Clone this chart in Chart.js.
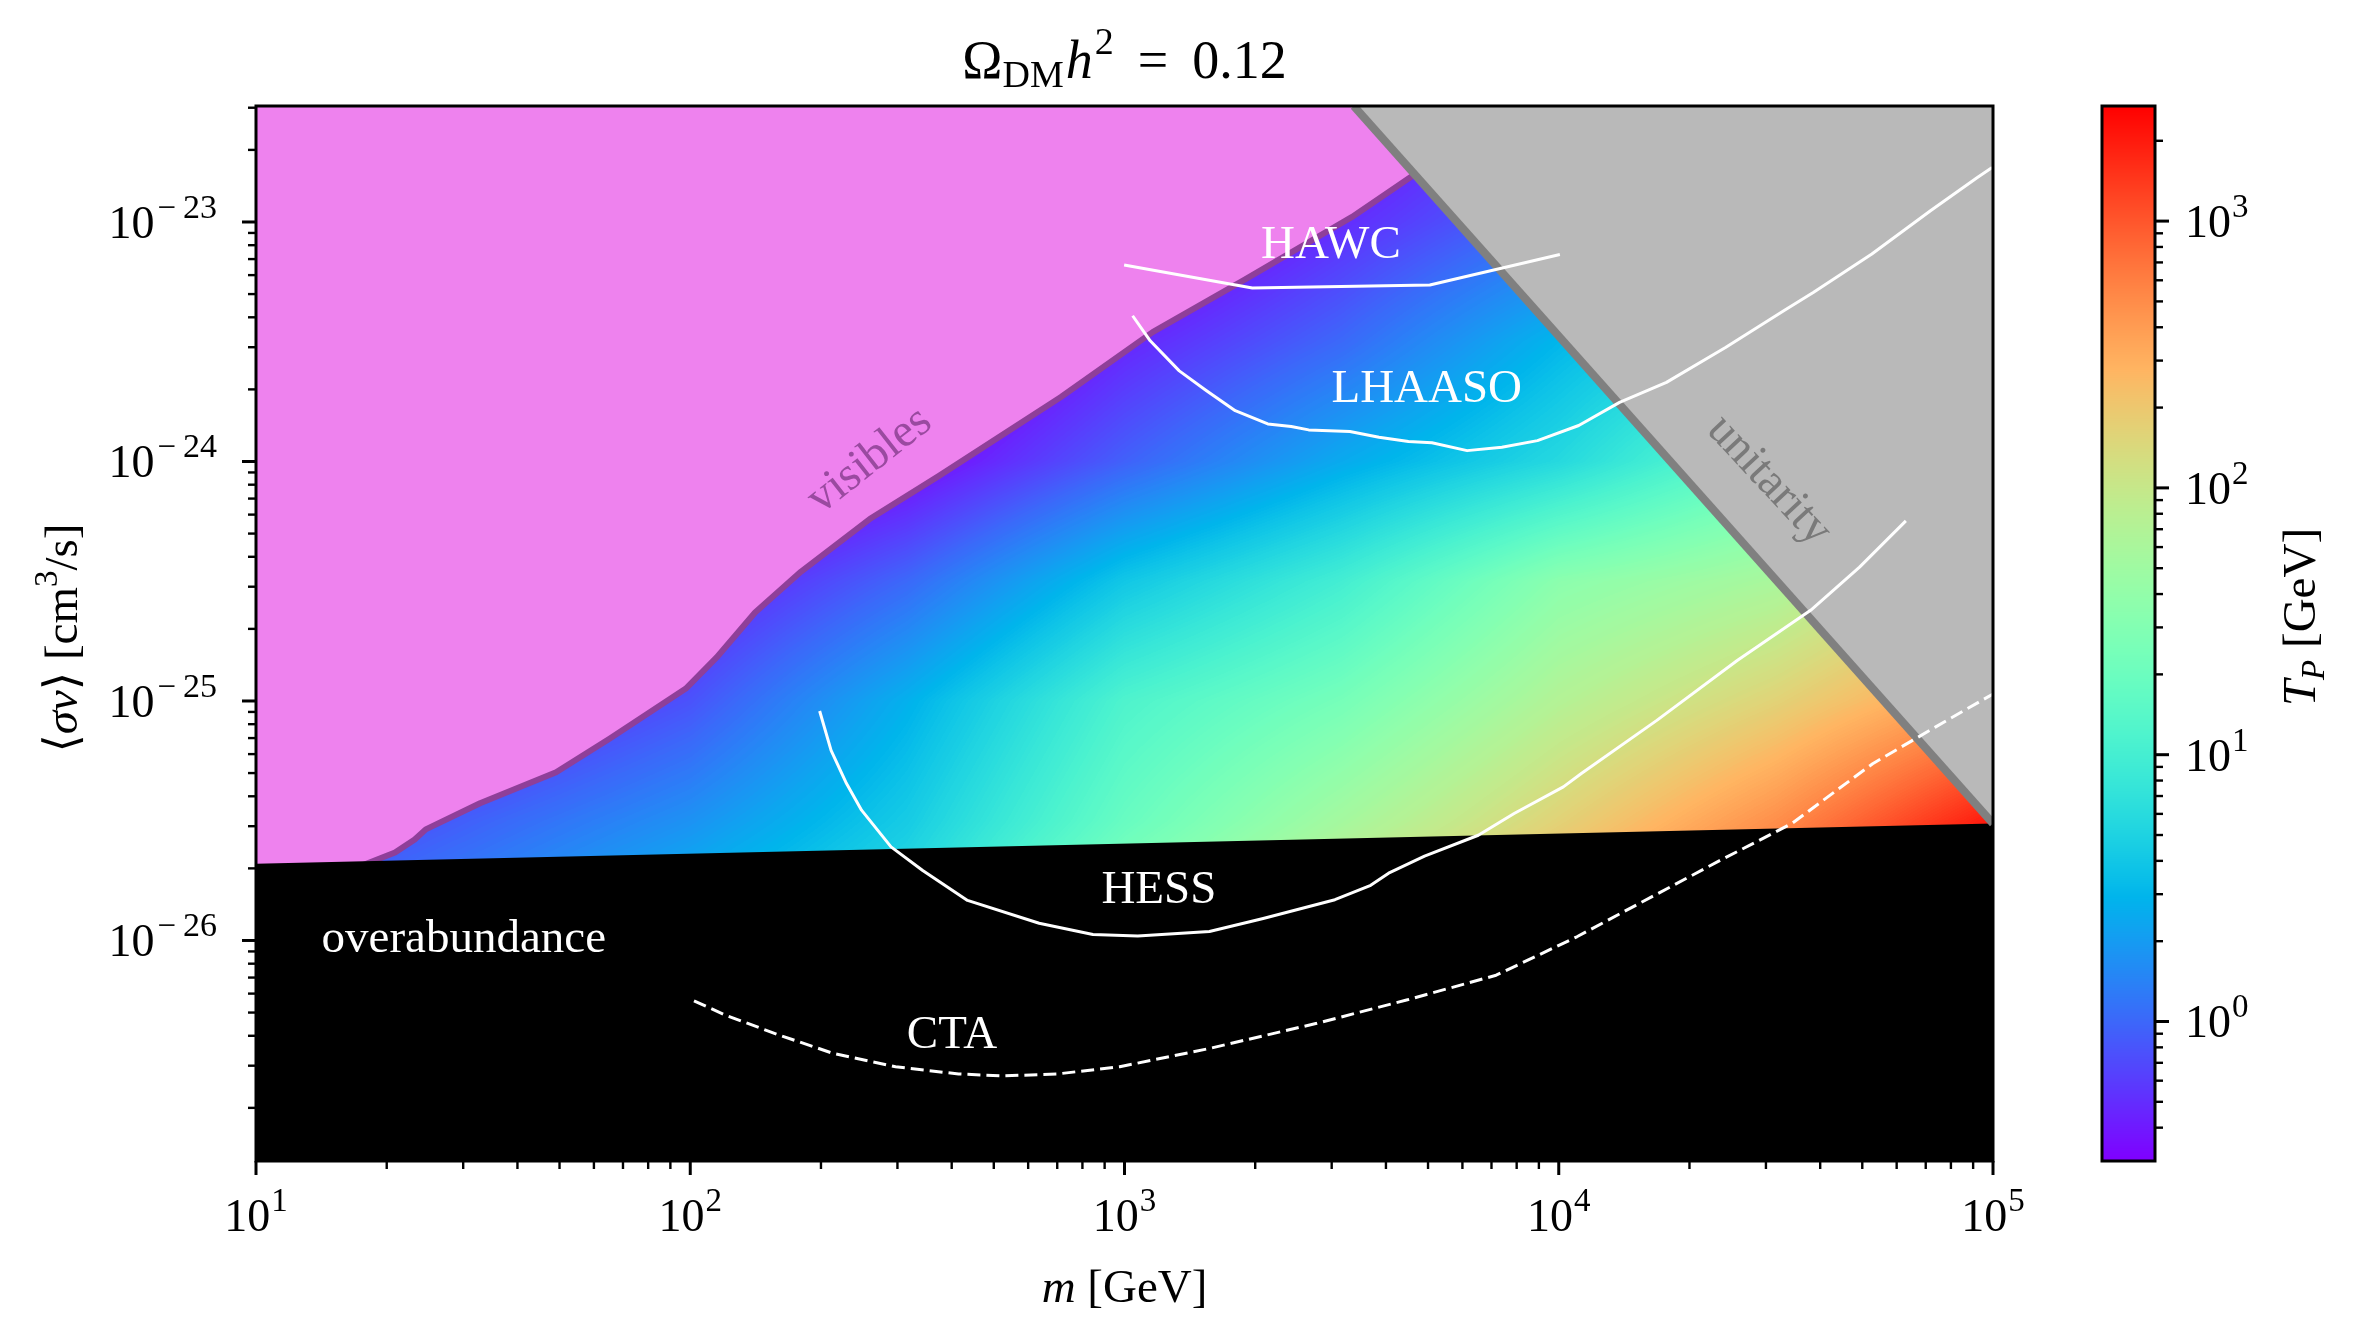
<!DOCTYPE html>
<html>
<head>
<meta charset="utf-8">
<script src="https://cdn.jsdelivr.net/npm/chart.js@4.4.1/dist/chart.umd.min.js"></script>
<style>
  html, body { margin: 0; padding: 0; background: #fff; }
</style>
</head>
<body>
<canvas id="myChart" width="2359" height="1344"></canvas>
<script>
// ---- axis ranges and ticks ----
var massMin = 10, massMax = 1e5;
var sigmaMin = 1.2e-27, sigmaMax = 3.05e-23;
var tpMin = 0.314, tpMax = 2700;
var massTicks = [10, 100, 1e3, 1e4, 1e5];
var massTickExps = ['1', '2', '3', '4', '5'];
var sigmaTicks = [1e-26, 1e-25, 1e-24, 1e-23];
var sigmaTickExps = ['\u221226', '\u221225', '\u221224', '\u221223'];
var tpTicks = [1, 10, 100, 1000];
var tpTickExps = ['0', '1', '2', '3'];

// ---- region boundaries ----
var relicMass = [10, 1e5];
var relicSigma = [2.09e-26, 3.08e-26];

var visibleMass = [10, 16.5, 20.9, 23.2, 24.6, 32.8, 49.1, 65.3, 97.7, 115, 141, 180, 259, 374, 714, 1161, 1892, 3342, 4634];
var visibleSigma = [1.95e-26, 1.97e-26, 2.33e-26, 2.64e-26, 2.91e-26, 3.74e-26, 5.04e-26, 6.97e-26, 1.127e-25, 1.52e-25,
  2.34e-25, 3.47e-25, 5.75e-25, 8.71e-25, 1.86e-24, 3.47e-24, 5.75e-24, 1.05e-23, 1.57e-23];

var unitarityMass = [3373, 1e5];
var unitaritySigma = [3.05e-23, 3.08e-26];

// ---- experimental limits ----
var hawcMass = [998, 1970, 5048, 10060];
var hawcSigma = [6.61e-24, 5.30e-24, 5.46e-24, 7.31e-24];

var lhaasoMass = [1044, 1146, 1337, 1542, 1799, 2138, 2421, 2655, 3304, 3855, 4508, 5105, 6152, 7396, 8933,
  11117, 13804, 17701, 24210, 33040, 38550, 52600, 71780, 92040, 99540];
var lhaasoSigma = [4.06e-24, 3.19e-24, 2.39e-24, 1.98e-24, 1.63e-24, 1.435e-24, 1.40e-24, 1.355e-24, 1.334e-24, 1.262e-24,
  1.213e-24, 1.197e-24, 1.11e-24, 1.146e-24, 1.222e-24, 1.413e-24, 1.766e-24, 2.14e-24, 2.99e-24, 4.27e-24,
  5.08e-24, 7.35e-24, 1.114e-23, 1.535e-23, 1.687e-23];

var hessMass = [198.6, 211, 229, 248, 290, 343, 435, 636, 846, 1073, 1569, 2086, 3052, 3689, 4057, 4908, 6527,
  7893, 10246, 11272, 16820, 25760, 38020, 49280, 63000];
var hessSigma = [9.08e-26, 6.22e-26, 4.52e-26, 3.50e-26, 2.46e-26, 1.96e-26, 1.47e-26, 1.18e-26, 1.06e-26, 1.045e-26,
  1.09e-26, 1.235e-26, 1.48e-26, 1.70e-26, 1.91e-26, 2.25e-26, 2.75e-26, 3.39e-26, 4.38e-26, 4.98e-26,
  8.3e-26, 1.476e-25, 2.39e-25, 3.62e-25, 5.65e-25];

var ctaMass = [102, 120.5, 160, 213, 297, 415, 526, 699, 975, 1569, 2773, 4462, 7175, 11010, 15350, 23540,
  34430, 52820, 73650, 1e5];
var ctaSigma = [5.60e-27, 4.88e-27, 4.03e-27, 3.38e-27, 2.97e-27, 2.77e-27, 2.72e-27, 2.77e-27, 2.97e-27, 3.54e-27,
  4.51e-27, 5.64e-27, 7.16e-27, 1.036e-26, 1.43e-26, 2.16e-26, 3.08e-26, 5.47e-26, 7.78e-26, 1.07e-25];

// ---- T_P [GeV] read on a grid (rows: sigma, columns: mass) ----
var gridMass = [10, 31.6, 100, 316, 1000, 3162, 1e4, 31623, 1e5];
var gridSigma = [3.16e-23, 1e-23, 3.16e-24, 1e-24, 3.16e-25, 1e-25, 3.16e-26, 1e-26];
var gridTp = [
  [0.021, 0.025, 0.033, 0.051, 0.106, 0.26, 0.65, 1.6, 4.0],
  [0.025, 0.033, 0.051, 0.106, 0.2, 0.49, 1.12, 3.0, 7.5],
  [0.033, 0.051, 0.081, 0.15, 0.45, 1.02, 3.0, 7.5, 18.5],
  [0.051, 0.081, 0.15, 0.31, 0.93, 2.5, 5.7, 18.5, 60],
  [0.106, 0.2, 0.38, 1.02, 4.0, 9.8, 35, 60, 179],
  [0.2, 0.38, 0.78, 2.76, 11.8, 24, 72, 163, 442],
  [0.49, 0.93, 1.76, 4.35, 18.5, 55, 163, 483, 2060],
  [1.02, 1.92, 3.97, 7.5, 42, 149, 442, 1310, 6700]
];

// ---- helpers ----
var FONT = "'Liberation Serif', 'DejaVu Serif', serif";

function pts(ms, ss) {
  return ms.map(function (m, i) { return { x: m, y: ss[i] }; });
}

// matplotlib "rainbow" colormap
function rainbow(f) {
  f = Math.max(0, Math.min(1, f));
  return [Math.abs(2 * f - 0.5), Math.sin(Math.PI * f), Math.cos(Math.PI * f / 2)].map(function (v) {
    return Math.round(255 * Math.max(0, Math.min(1, v)));
  });
}

// text made of parts: t text, s size, dy raise, i italic, pad extra advance
function setFont(ctx, p) {
  ctx.font = (p.i ? 'italic ' : '') + (p.s || 47) + 'px ' + FONT;
}
function partsWidth(ctx, parts) {
  var w = 0;
  parts.forEach(function (p) { setFont(ctx, p); w += ctx.measureText(p.t).width + (p.pad || 0); });
  return w;
}
function drawParts(ctx, parts, x, y, align) {
  var w = partsWidth(ctx, parts);
  var cx = align === 'center' ? x - w / 2 : (align === 'right' ? x - w : x);
  ctx.textAlign = 'left';
  ctx.textBaseline = 'alphabetic';
  parts.forEach(function (p) {
    setFont(ctx, p);
    ctx.fillText(p.t, cx, y - (p.dy || 0));
    cx += ctx.measureText(p.t).width + (p.pad || 0);
  });
}
function power(exp) {
  if (exp.charAt(0) === '\u2212') {
    return [{ t: '10', s: 46, pad: 3 }, { t: '\u2212', s: 33, dy: 20, pad: 7 }, { t: exp.slice(1), s: 34, dy: 20 }];
  }
  return [{ t: '10', s: 46, pad: 1 }, { t: exp, s: 33, dy: 20 }];
}
function line(ctx, x1, y1, x2, y2, w) {
  ctx.lineWidth = w;
  ctx.beginPath(); ctx.moveTo(x1, y1); ctx.lineTo(x2, y2); ctx.stroke();
}
function minorTicks(lo, hi) {
  var out = [];
  for (var e = Math.floor(Math.log10(lo)) - 1; e <= Math.ceil(Math.log10(hi)); e++) {
    for (var k = 2; k <= 9; k++) {
      var v = k * Math.pow(10, e);
      if (v > lo * 1.002 && v < hi / 1.002) out.push(v);
    }
  }
  return out;
}

// ---- the T_P field behind the regions ----
var heatmapPlugin = {
  id: 'heatmap',
  beforeDatasetsDraw: function (chart) {
    var a = chart.chartArea, xs = chart.scales.x, ys = chart.scales.y, cb = chart.scales.cb;
    var left = Math.round(a.left), top = Math.round(a.top);
    var w = Math.round(a.right) - left, h = Math.round(a.bottom) - top;
    var off = document.createElement('canvas');
    off.width = w; off.height = h;
    var octx = off.getContext('2d');
    var img = octx.createImageData(w, h);
    var lm = gridMass.map(Math.log10), ls = gridSigma.map(Math.log10);
    var lt = gridTp.map(function (r) { return r.map(Math.log10); });
    var l0 = Math.log10(cb.min), l1 = Math.log10(cb.max);
    function locate(arr, v) {
      var t = (v - arr[0]) / (arr[1] - arr[0]);
      var i = Math.max(0, Math.min(arr.length - 2, Math.floor(t)));
      var fr = Math.max(0, Math.min(1, (v - arr[i]) / (arr[i + 1] - arr[i])));
      return [i, fr];
    }
    var cols = [], rows = [];
    for (var j = 0; j < w; j++) cols.push(locate(lm, Math.log10(xs.getValueForPixel(left + j + 0.5))));
    for (var k = 0; k < h; k++) rows.push(locate(ls, Math.log10(ys.getValueForPixel(top + k + 0.5))));
    var lut = [];
    for (var q = 0; q < 256; q++) lut.push(rainbow(q / 255));
    var d = img.data;
    for (k = 0; k < h; k++) {
      var ri = rows[k][0], rf = rows[k][1];
      var r0 = lt[ri], r1 = lt[ri + 1];
      for (j = 0; j < w; j++) {
        var ci = cols[j][0], cf = cols[j][1];
        var v0 = r0[ci] + (r0[ci + 1] - r0[ci]) * cf;
        var v1 = r1[ci] + (r1[ci + 1] - r1[ci]) * cf;
        var v = v0 + (v1 - v0) * rf;
        var f = (v - l0) / (l1 - l0);
        var col = lut[Math.max(0, Math.min(255, Math.round(f * 255)))];
        var o = (k * w + j) * 4;
        d[o] = col[0]; d[o + 1] = col[1]; d[o + 2] = col[2]; d[o + 3] = 255;
      }
    }
    octx.putImageData(img, 0, 0);
    chart.ctx.drawImage(off, left, top);
  }
};

// ---- text labels inside the axes (data coordinates) ----
var regionLabels = [
  { t: 'HAWC', m: 2987, s: 7.05e-24, color: '#ffffff', rot: 0 },
  { t: 'LHAASO', m: 4966, s: 1.77e-24, color: '#ffffff', rot: 0 },
  { t: 'HESS', m: 1200, s: 1.43e-26, color: '#ffffff', rot: 0 },
  { t: 'CTA', m: 400.6, s: 3.56e-27, color: '#ffffff', rot: 0 },
  { t: 'overabundance', m: 30.1, s: 8.93e-27, color: '#ffffff', rot: 0 },
  { t: 'visibles', m: 259, s: 1.01e-24, color: '#9a4aa0', rot: -38, mid: true },
  { t: 'unitarity', m: 30480, s: 8.32e-25, color: '#7a7a7a', rot: 47, mid: true }
];

var decorPlugin = {
  id: 'decor',
  afterDraw: function (chart) {
    var c = chart.ctx, a = chart.chartArea;
    var xs = chart.scales.x, ys = chart.scales.y, cb = chart.scales.cb;
    c.save();

    // labels in the plot
    regionLabels.forEach(function (L) {
      var px = xs.getPixelForValue(L.m), py = ys.getPixelForValue(L.s);
      c.fillStyle = L.color;
      c.save();
      c.translate(px, py);
      c.rotate(L.rot * Math.PI / 180);
      if (L.mid) {
        c.font = '47px ' + FONT;
        c.textAlign = 'center';
        c.textBaseline = 'middle';
        c.fillText(L.t, 0, 0);
      } else {
        drawParts(c, [{ t: L.t }], 0, 0, 'center');
      }
      c.restore();
    });

    // frame
    c.strokeStyle = '#000';
    c.lineWidth = 3;
    c.strokeRect(a.left, a.top, a.right - a.left, a.bottom - a.top);

    // x ticks
    c.fillStyle = '#000';
    massTicks.forEach(function (v, i) {
      var px = xs.getPixelForValue(v);
      line(c, px, a.bottom, px, a.bottom + 14, 3);
      drawParts(c, power(massTickExps[i]), px, 1231, 'center');
    });
    minorTicks(massMin, massMax).forEach(function (v) {
      var px = xs.getPixelForValue(v);
      line(c, px, a.bottom, px, a.bottom + 8, 2.4);
    });

    // y ticks
    sigmaTicks.forEach(function (v, i) {
      var py = ys.getPixelForValue(v);
      line(c, a.left, py, a.left - 14, py, 3);
      drawParts(c, power(sigmaTickExps[i]), 217, py + 16, 'right');
    });
    minorTicks(sigmaMin, sigmaMax).forEach(function (v) {
      var py = ys.getPixelForValue(v);
      line(c, a.left, py, a.left - 8, py, 2.4);
    });

    // axis labels and title
    drawParts(c, [{ t: 'm', i: true }, { t: ' [GeV]' }], (a.left + a.right) / 2, 1302, 'center');
    c.save();
    c.translate(77, 638);
    c.rotate(-Math.PI / 2);
    drawParts(c, [{ t: '\u27E8' }, { t: '\u03C3v', i: true }, { t: '\u27E9 [cm' }, { t: '3', s: 33, dy: 20 }, { t: '/s]' }], 0, 0, 'center');
    c.restore();
    drawParts(c, [{ t: '\u03A9', s: 54 }, { t: 'DM', s: 38, dy: -9, pad: 2 }, { t: 'h', s: 54, i: true, pad: 2 },
      { t: '2', s: 38, dy: 24, pad: 24 }, { t: '=', s: 54, pad: 24 }, { t: '0.12', s: 54 }],
      (a.left + a.right) / 2, 78, 'center');

    // colorbar
    var bx0 = 2102, bx1 = 2155;
    for (var y = Math.round(a.top); y < Math.round(a.bottom); y++) {
      var T = cb.getValueForPixel(y + 0.5);
      var f = (Math.log10(T) - Math.log10(cb.min)) / (Math.log10(cb.max) - Math.log10(cb.min));
      var rgb = rainbow(f);
      c.fillStyle = 'rgb(' + rgb[0] + ',' + rgb[1] + ',' + rgb[2] + ')';
      c.fillRect(bx0, y, bx1 - bx0, 1);
    }
    c.strokeStyle = '#000';
    c.lineWidth = 3;
    c.strokeRect(bx0, a.top, bx1 - bx0, a.bottom - a.top);
    c.fillStyle = '#000';
    tpTicks.forEach(function (v, i) {
      var py = cb.getPixelForValue(v);
      line(c, bx1, py, bx1 + 14, py, 3);
      drawParts(c, power(tpTickExps[i]), 2185, py + 16, 'left');
    });
    minorTicks(tpMin, tpMax).forEach(function (v) {
      var py = cb.getPixelForValue(v);
      line(c, bx1, py, bx1 + 8, py, 2.4);
    });
    c.save();
    c.translate(2315, 617);
    c.rotate(-Math.PI / 2);
    drawParts(c, [{ t: 'T', i: true }, { t: 'P', s: 33, dy: -9, i: true }, { t: ' [GeV]' }], 0, 0, 'center');
    c.restore();

    c.restore();
  }
};

var ctx = document.getElementById('myChart').getContext('2d');

var myChart = new Chart(ctx, {
  type: 'line',
  data: {
    datasets: [
      { label: 'visibles', data: pts(visibleMass, visibleSigma), fill: 'end', backgroundColor: '#ee82ee',
        borderColor: '#8f3f99', borderWidth: 6, order: 6, clip: 0 },
      { label: 'overabundance', data: pts(relicMass, relicSigma), fill: 'start', backgroundColor: '#000000',
        borderColor: '#000000', borderWidth: 0, order: 5, clip: 0 },
      { label: 'unitarity', data: pts(unitarityMass, unitaritySigma), fill: 'end', backgroundColor: '#b9b9b9',
        borderColor: '#808080', borderWidth: 8, order: 4, clip: 0 },
      { label: 'HAWC', data: pts(hawcMass, hawcSigma), borderColor: '#ffffff', borderWidth: 3, fill: false, order: 1, clip: 0 },
      { label: 'LHAASO', data: pts(lhaasoMass, lhaasoSigma), borderColor: '#ffffff', borderWidth: 3, fill: false, order: 1, clip: 0 },
      { label: 'HESS', data: pts(hessMass, hessSigma), borderColor: '#ffffff', borderWidth: 3, fill: false, order: 1, clip: 0 },
      { label: 'CTA', data: pts(ctaMass, ctaSigma), borderColor: '#ffffff', borderWidth: 3, borderDash: [13, 6],
        fill: false, order: 1, clip: 0 }
    ]
  },
  options: {
    responsive: false,
    animation: false,
    layout: { padding: { left: 256, right: 366, top: 106, bottom: 183 } },
    elements: {
      point: { radius: 0, hoverRadius: 0 },
      line: { tension: 0, borderCapStyle: 'butt', borderJoinStyle: 'round' }
    },
    plugins: {
      legend: { display: false },
      tooltip: { enabled: false },
      title: { display: false }
    },
    scales: {
      x: { type: 'logarithmic', min: massMin, max: massMax, display: false },
      y: { type: 'logarithmic', min: sigmaMin, max: sigmaMax, display: false },
      cb: { type: 'logarithmic', axis: 'y', position: 'right', min: tpMin, max: tpMax, display: false }
    }
  },
  plugins: [heatmapPlugin, decorPlugin]
});
</script>
</body>
</html>
